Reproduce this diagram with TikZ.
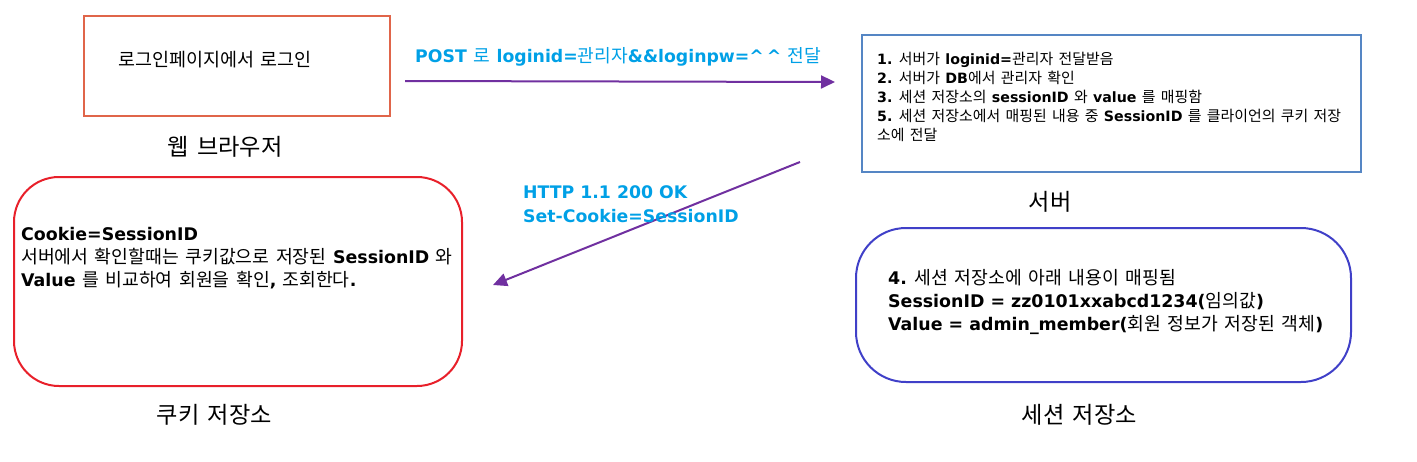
\documentclass[tikz,border=0pt]{standalone}
\usepackage{fontspec}
\setmainfont{DejaVu Sans}
\newfontfamily\krfont[Scale=1.05,WordSpace=1.6]{Noto Sans CJK KR}
\usetikzlibrary{arrows.meta}
\definecolor{arrowpurple}{HTML}{7030A0}
\definecolor{labelcyan}{HTML}{00A0E6}
\definecolor{webbox}{HTML}{E0654A}
\definecolor{serverbox}{HTML}{5586C4}
\definecolor{cookiebox}{HTML}{E8202A}
\definecolor{sessionbox}{HTML}{4040C8}
\newcommand\kr[1]{{\krfont\mdseries #1}}
\begin{document}
\begin{tikzpicture}[x=1pt,y=-1pt,
  boxnode/.style={anchor=north west, inner sep=0pt, line width=2pt, fill=none},
  txt/.style={anchor=base west, inner sep=0pt, font=\fontsize{14.2}{16}\selectfont\bfseries},
  bigtxt/.style={anchor=base west, inner sep=0pt, font=\fontsize{17.4}{20}\selectfont\bfseries},
  lbl/.style={anchor=base west, inner sep=0pt, text=labelcyan, font=\fontsize{17.3}{20}\selectfont\bfseries},
  title/.style={anchor=base, inner sep=0pt, font=\fontsize{22.1}{24}\selectfont\krfont},
  conn/.style={draw=arrowpurple, line width=2pt, -{Triangle[length=14pt,width=13pt]}}
]
\useasboundingbox (0,0) rectangle (1417,461);

% boxes
\node[boxnode, draw=webbox, minimum width=306, minimum height=100] (web) at (83,15) {};
\node[boxnode, draw=serverbox, minimum width=499, minimum height=137] (server) at (861,34) {};
\node[boxnode, draw=cookiebox, rounded corners=45pt, minimum width=448, minimum height=209] (cookie) at (13,176) {};
\node[boxnode, draw=sessionbox, rounded corners=50pt, minimum width=495, minimum height=154] (session) at (855,227) {};

% web browser text
\node[anchor=base west, inner sep=0pt, font=\fontsize{17.6}{18}\selectfont\krfont] (webtxt) at (118,66) {로그인페이지에서 로그인};
\node[title] (webtitle) at (225,155) {웹 브라우저};

% server text
\node[txt] (s1) at (877,64) {1.\kr{ 서버가 }loginid=\kr{관리자 전달받음}};
\node[txt] (s2) at (877,83) {2.\kr{ 서버가 }DB\kr{에서 관리자 확인}};
\node[txt] (s3) at (877,102) {3.\kr{ 세션 저장소의 }sessionID\kr{ 와 }value\kr{ 를 매핑함}};
\node[txt] (s4) at (877,121) {5.\kr{ 세션 저장소에서 매핑된 내용 중 }SessionID\kr{ 를 클라이언의 쿠키 저장}};
\node[txt] (s5) at (877,140) {\kr{소에 전달}};
\node[title] (servertitle) at (1050,210) {서버};

% cookie text
\node[bigtxt] (c1) at (21,240) {Cookie=SessionID};
\node[bigtxt] (c2) at (21,263) {\kr{서버에서 확인할때는 쿠키값으로 저장된 }SessionID\kr{ 와}};
\node[bigtxt] (c3) at (21,286) {Value\kr{ 를 비교하여 회원을 확인}, \kr{조회한다}.};
\node[title] (cookietitle) at (214.5,423) {쿠키 저장소};

% session text
\node[bigtxt] (ss1) at (888,284) {4.\kr{ 세션 저장소에 아래 내용이 매핑됨}};
\node[bigtxt] (ss2) at (888,307) {SessionID = zz0101xxabcd1234(\kr{임의값})};
\node[bigtxt] (ss3) at (888,330) {Value = admin\_member(\kr{회원 정보가 저장된 객체})};
\node[title] (sessiontitle) at (1079.5,423) {세션 저장소};

% connectors
\coordinate (a1s) at (405,81);
\coordinate (a1e) at (835,82);
\coordinate (a2s) at (800,162);
\coordinate (a2e) at (493,285);
\draw[conn] (a1s) -- (a1e);
\draw[conn] (a2s) -- (a2e);

% labels
\node[lbl] (postlbl) at (415,62) {POST\kr{ 로 }loginid=\kr{관리자}\&\&loginpw=\textasciicircum\,\textasciicircum\kr{ 전달}};
\node[lbl] (http1) at (523,198) {HTTP 1.1 200 OK};
\node[lbl] (http2) at (523,222) {Set-Cookie=SessionID};
\end{tikzpicture}
\end{document}
